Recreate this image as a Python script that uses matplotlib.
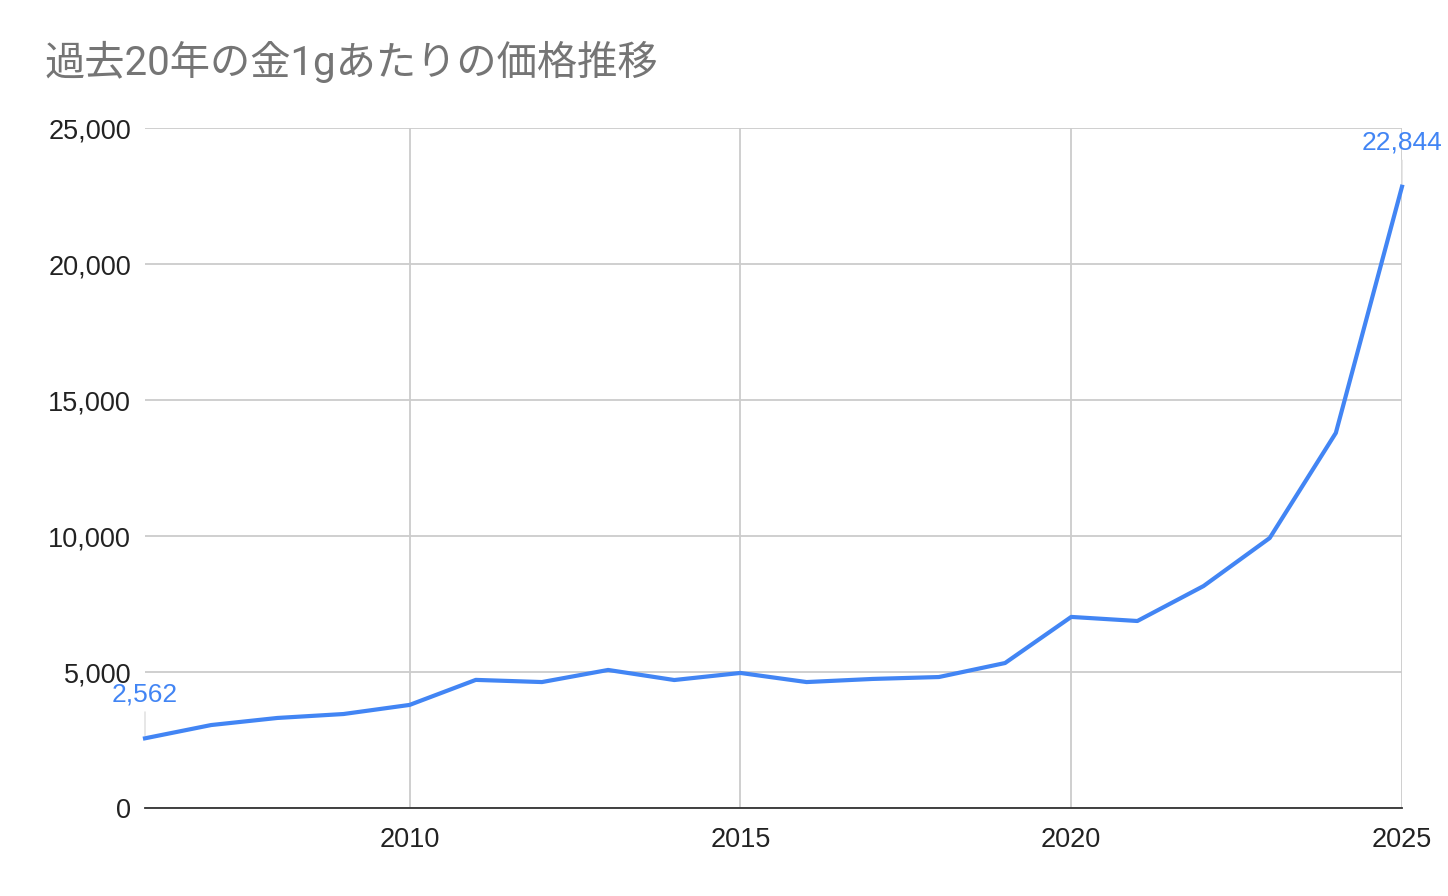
import matplotlib.pyplot as plt
from matplotlib.ticker import FuncFormatter

# 金1gあたりの価格 (円)
years = [2006, 2007, 2008, 2009, 2010, 2011, 2012, 2013, 2014, 2015,
         2016, 2017, 2018, 2019, 2020, 2021, 2022, 2023, 2024, 2025]
prices = [2562, 3050, 3310, 3455, 3790, 4710, 4630, 5075, 4705, 4965,
          4630, 4745, 4815, 5330, 7025, 6875, 8160, 9925, 13790, 22844]
x_ticks = [2010, 2015, 2020, 2025]
y_ticks = [0, 5000, 10000, 15000, 20000, 25000]
title = "過去20年の金1gあたりの価格推移"

blue = "#4285F4"
num_font = ["Liberation Sans", "DejaVu Sans"]

fig = plt.figure(figsize=(14.48, 8.96), dpi=100)
ax = fig.add_axes([145 / 1448, 1 - 808 / 896, (1402 - 145) / 1448, (808 - 128) / 896])

ax.plot(years, prices, color=blue, linewidth=3, solid_joinstyle="round", zorder=3, clip_on=False)

ax.set_xlim(years[0], years[-1])
ax.set_ylim(0, 25000)
ax.set_xticks(x_ticks)
ax.set_yticks(y_ticks)
ax.yaxis.set_major_formatter(FuncFormatter(lambda v, p: f"{int(v):,}"))
ax.grid(True, color="#cccccc", linewidth=1.3)
ax.set_axisbelow(True)
ax.tick_params(length=0, labelsize=19.5, colors="#222222")
ax.tick_params(axis="y", pad=10)
ax.tick_params(axis="x", pad=14)
for lab in ax.get_xticklabels() + ax.get_yticklabels():
    lab.set_fontfamily(num_font)

for side in ["top", "right", "left"]:
    ax.spines[side].set_visible(False)
ax.spines["bottom"].set_color("#333333")
ax.spines["bottom"].set_linewidth(1.3)

# 最初と最後のデータラベル
for i in [0, -1]:
    ax.annotate(f"{prices[i]:,}", xy=(years[i], prices[i]), xytext=(0, 23),
                textcoords="offset points", ha="center", va="bottom",
                color=blue, fontsize=19, family=num_font,
                arrowprops=dict(arrowstyle="-", color="#dddddd", lw=1,
                                shrinkA=2, shrinkB=2),
                annotation_clip=False)

fig.text(45 / 1448, 1 - 62 / 896, title, fontsize=29, color="#757575",
         family=["Roboto", "Noto Sans CJK JP"], ha="left", va="center")

fig.savefig("out.png", dpi=100)
